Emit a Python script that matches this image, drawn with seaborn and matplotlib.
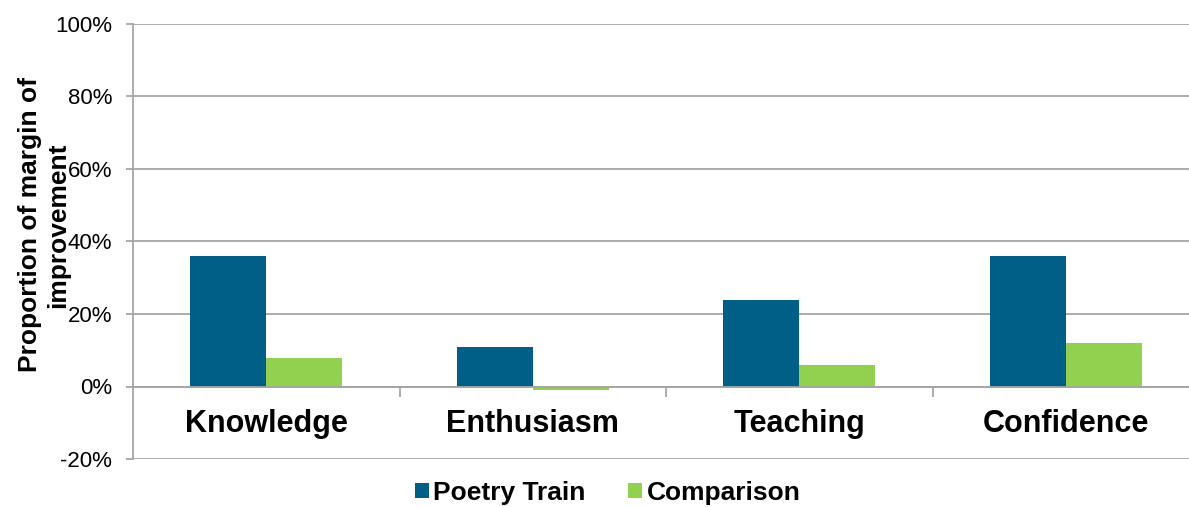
import pandas as pd
import numpy as np
import seaborn as sns
import matplotlib.pyplot as plt
from matplotlib.ticker import PercentFormatter, FixedLocator
from matplotlib.patches import Patch

categories = ['Knowledge', 'Enthusiasm', 'Teaching', 'Confidence']
poetry_train = [36, 11, 24, 36]
comparison = [8, -1, 6, 12]
groups = ['Poetry Train', 'Comparison']
colors = ['#005F86', '#92D050']

df = pd.DataFrame({
    'category': categories * 2,
    'group': [groups[0]] * 4 + [groups[1]] * 4,
    'value': poetry_train + comparison,
})

sns.set_style('white')
plt.rcParams['font.family'] = ['Liberation Sans', 'DejaVu Sans']
plt.rcParams['axes.unicode_minus'] = False
plt.rcParams['text.color'] = 'black'
plt.rcParams['axes.labelcolor'] = 'black'
plt.rcParams['xtick.labelcolor'] = 'black'
plt.rcParams['ytick.labelcolor'] = 'black'

fig = plt.figure(figsize=(11.89, 5.07), dpi=100)
ax = fig.add_axes([133 / 1189, 1 - 459 / 507, 1066 / 1189, 435 / 507])

sns.barplot(data=df, x='category', y='value', hue='group', order=categories,
            hue_order=groups, palette=colors, width=0.57, gap=0,
            saturation=1, linewidth=0, legend=False, ax=ax)

ax.set_ylim(-20, 100)
ax.set_xlim(-0.5, 3.5)
ax.set_yticks(np.arange(-20, 101, 20))
ax.yaxis.set_major_formatter(PercentFormatter(decimals=0))
ax.yaxis.grid(True, color='#A6A6A6', linewidth=1.3)
ax.set_axisbelow(True)

for s in ['top', 'right']:
    ax.spines[s].set_visible(False)
ax.spines['left'].set_color('#A6A6A6')
ax.spines['left'].set_linewidth(1.3)
ax.spines['bottom'].set_position(('data', 0))
ax.spines['bottom'].set_color('#A6A6A6')
ax.spines['bottom'].set_linewidth(1.3)

ax.tick_params(axis='y', left=True, length=5, width=1.3, color='#A6A6A6',
               labelsize=16, pad=10)
ax.tick_params(axis='x', which='major', length=0, labelsize=22, pad=16)
ax.xaxis.set_minor_locator(FixedLocator([0.5, 1.5, 2.5]))
ax.tick_params(axis='x', which='minor', bottom=True, length=7, width=1.3,
               color='#A6A6A6')
for lab in ax.get_xticklabels():
    lab.set_fontweight('bold')

ax.set_xlabel('')
ax.set_ylabel('Proportion of margin of\nimprovement', fontsize=19,
              fontweight='bold', linespacing=1.2)
ax.yaxis.set_label_coords(-0.059, 0.538)

handles = [Patch(facecolor=c, edgecolor='none') for c in colors]
fig.legend(handles, groups, loc='center', bbox_to_anchor=(0.511, 0.028),
           ncol=2, frameon=False, prop={'size': 19, 'weight': 'bold'},
           handlelength=0.55, handleheight=0.55, handletextpad=0.15,
           columnspacing=1.6)

fig.savefig('out.png', dpi=100)
